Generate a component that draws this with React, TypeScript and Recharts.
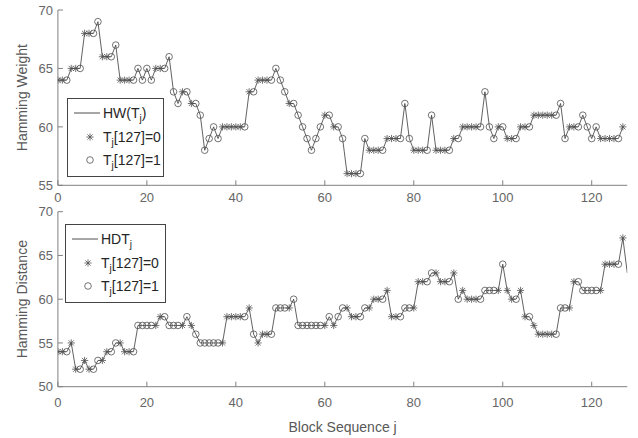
import React from "react";
import { LineChart, Line, XAxis, YAxis, Legend } from "recharts";

// block index j = position in the arrays
const hwValues = [
  64, 64, 64, 65, 65, 65, 68, 68, 68, 69,
  66, 66, 66, 67, 64, 64, 64, 64, 65, 64,
  65, 64, 65, 65, 65, 66, 63, 62, 63, 63,
  62, 62, 61, 58, 59, 60, 59, 60, 60, 60,
  60, 60, 60, 63, 63, 64, 64, 64, 64, 65,
  64, 63, 62, 62, 61, 60, 59, 58, 59, 60,
  61, 61, 60, 60, 59, 56, 56, 56, 56, 59,
  58, 58, 58, 58, 59, 59, 59, 59, 62, 59,
  58, 58, 58, 58, 61, 58, 58, 58, 58, 59,
  59, 60, 60, 60, 60, 60, 63, 60, 59, 60,
  60, 59, 59, 59, 60, 60, 60, 61, 61, 61,
  61, 61, 61, 62, 59, 60, 60, 60, 61, 60,
  59, 60, 59, 59, 59, 59, 59, 60,
];

const hdtValues = [
  54, 54, 54, 55, 52, 52, 53, 52, 52, 53,
  53, 54, 54, 55, 55, 54, 54, 54, 57, 57,
  57, 57, 57, 58, 58, 57, 57, 57, 57, 58,
  57, 56, 55, 55, 55, 55, 55, 55, 58, 58,
  58, 58, 58, 59, 56, 55, 56, 56, 56, 59,
  59, 59, 59, 60, 57, 57, 57, 57, 57, 57,
  57, 58, 57, 58, 59, 59, 58, 58, 58, 59,
  59, 60, 60, 60, 61, 58, 58, 58, 59, 59,
  59, 62, 62, 62, 63, 63, 62, 62, 62, 63,
  60, 61, 60, 60, 60, 60, 61, 61, 61, 61,
  64, 61, 60, 60, 61, 58, 58, 57, 56, 56,
  56, 56, 56, 59, 59, 59, 62, 62, 61, 61,
  61, 61, 61, 64, 64, 64, 64, 67, 63,
];

// T_j[127]
const lastBit = [
  0, 0, 1, 0, 0, 1, 0, 0, 1, 1,
  0, 0, 1, 1, 0, 0, 0, 1, 1, 1,
  1, 1, 0, 0, 1, 1, 1, 1, 0, 1,
  0, 1, 1, 1, 1, 1, 1, 0, 0, 0,
  0, 0, 1, 0, 1, 0, 0, 0, 1, 1,
  1, 1, 0, 1, 1, 1, 1, 1, 1, 1,
  0, 1, 0, 1, 1, 0, 0, 0, 1, 1,
  0, 0, 0, 1, 0, 0, 0, 1, 1, 1,
  0, 0, 0, 1, 1, 0, 0, 0, 1, 0,
  1, 0, 0, 0, 0, 1, 1, 1, 1, 0,
  1, 0, 0, 1, 0, 0, 1, 0, 0, 0,
  0, 0, 1, 1, 1, 0, 0, 1, 1, 1,
  1, 1, 0, 0, 0, 0, 1, 0,
];

const xTicks = [0, 20, 40, 60, 80, 100, 120];
const hwTicks = [55, 60, 65, 70];
const hdtTicks = [50, 55, 60, 65, 70];

const rows = hdtValues.map((v, j) => ({
  j,
  hw: hwValues[j] ?? null,
  hdt: v,
  bit: lastBit[j],
}));

const FONT = "'Liberation Sans', Arial, Helvetica, sans-serif";
const AXIS = "#808080";
const TICK_TXT = "#666666";
const TITLE = "#595959";
const LINE = "#3a3a3a";
const MARK = "#505050";

function Star({ cx, cy, r = 3.6 }: { cx: number; cy: number; r?: number }) {
  const d = r * 0.72;
  return (
    <g stroke={MARK} strokeWidth={0.8}>
      <line x1={cx - r} y1={cy} x2={cx + r} y2={cy} />
      <line x1={cx} y1={cy - r} x2={cx} y2={cy + r} />
      <line x1={cx - d} y1={cy - d} x2={cx + d} y2={cy + d} />
      <line x1={cx - d} y1={cy + d} x2={cx + d} y2={cy - d} />
    </g>
  );
}

function Ring({ cx, cy }: { cx: number; cy: number }) {
  return <circle cx={cx} cy={cy} r={3.3} fill="none" stroke={MARK} strokeWidth={0.8} />;
}

function marker(props: any) {
  const { cx, cy, index, payload } = props;
  if (cy == null || payload.bit === undefined) return <g key={`m-${index}`} />;
  return payload.bit === 0 ? (
    <g key={`m-${index}`}><Star cx={cx} cy={cy} /></g>
  ) : (
    <g key={`m-${index}`}><Ring cx={cx} cy={cy} /></g>
  );
}

function BottomTick(props: any) {
  const { x, y, payload, gap = 8 } = props;
  return (
    <g>
      <line x1={x} y1={y} x2={x} y2={y - 5} stroke={AXIS} />
      <text x={x} y={y + gap} dy="0.71em" textAnchor="middle" fill={TICK_TXT} fontSize={13} fontFamily={FONT}>
        {payload.value}
      </text>
    </g>
  );
}

function TopTick(props: any) {
  const { x, y } = props;
  return <line x1={x} y1={y} x2={x} y2={y + 5} stroke={AXIS} />;
}

function LeftTick(props: any) {
  const { x, y, payload } = props;
  return (
    <g>
      <line x1={x} y1={y} x2={x + 5} y2={y} stroke={AXIS} />
      <text x={x - 5} y={y} dy="0.36em" textAnchor="end" fill={TICK_TXT} fontSize={13} fontFamily={FONT}>
        {payload.value}
      </text>
    </g>
  );
}

function RightTick(props: any) {
  const { x, y } = props;
  return <line x1={x} y1={y} x2={x - 5} y2={y} stroke={AXIS} />;
}

function yTitle(text: string) {
  return (p: any) => {
    const vb = p.viewBox;
    const cx = vb.x + 22;
    const cy = vb.y + vb.height / 2;
    return (
      <text
        x={cx}
        y={cy}
        transform={`rotate(-90 ${cx} ${cy})`}
        textAnchor="middle"
        dominantBaseline="central"
        fill={TITLE}
        fontSize={14}
        fontFamily={FONT}
      >
        {text}
      </text>
    );
  };
}

function LegendBox({ name, width }: { name: string; width: number }) {
  const sub = (
    <tspan dy={4} fontSize={10}>
      j
    </tspan>
  );
  return (
    <div style={{ width, height: 79, border: "1px solid #444", background: "#fff", boxSizing: "border-box" }}>
      <svg width={width - 2} height={77} style={{ display: "block" }} fontFamily={FONT} fontSize={14} fill="#262626">
        <line x1={6} y1={14} x2={32} y2={14} stroke={LINE} strokeWidth={0.9} />
        <text x={35} y={19}>
          {name === "HW" ? "HW(T" : "HDT"}
          {sub}
          {name === "HW" ? <tspan dy={-4}>)</tspan> : null}
        </text>
        <Star cx={22} cy={38} />
        <text x={35} y={43}>
          T{sub}
          <tspan dy={-4}>[127]=0</tspan>
        </text>
        <Ring cx={22} cy={61} />
        <text x={35} y={66}>
          T{sub}
          <tspan dy={-4}>[127]=1</tspan>
        </text>
      </svg>
    </div>
  );
}

export default function App() {
  return (
    <div style={{ position: "absolute", left: 0, top: 0, width: 638, height: 438, background: "#fff" }}>
      <div style={{ position: "absolute", left: 0, top: 0 }}>
        <LineChart width={638} height={212} data={rows} margin={{ top: 10, right: 10.7, left: 0, bottom: 0 }}>
          <XAxis xAxisId="b" dataKey="j" type="number" domain={[0, 128]} ticks={xTicks} allowDataOverflow
            height={26.7} tickSize={0} tickMargin={0} tick={<BottomTick gap={7.5} />} axisLine={{ stroke: AXIS }} tickLine={false} interval={0} />
          <XAxis xAxisId="t" orientation="top" dataKey="j" type="number" domain={[0, 128]} ticks={xTicks} allowDataOverflow
            height={0} tickSize={0} tickMargin={0} tick={<TopTick />} axisLine={{ stroke: AXIS }} tickLine={false} interval={0} />
          <YAxis yAxisId="l" type="number" domain={[55, 70]} ticks={hwTicks} allowDataOverflow width={57.9}
            tickSize={0} tickMargin={0} tick={<LeftTick />} axisLine={{ stroke: AXIS }} tickLine={false} interval={0}
            label={{ content: yTitle("Hamming Weight") }} />
          <YAxis yAxisId="r" orientation="right" type="number" domain={[55, 70]} ticks={hwTicks} allowDataOverflow width={0}
            tickSize={0} tickMargin={0} tick={<RightTick />} axisLine={{ stroke: AXIS }} tickLine={false} interval={0} />
          <Line xAxisId="b" yAxisId="l" dataKey="hw" stroke={LINE} strokeWidth={0.8} dot={marker} activeDot={false}
            isAnimationActive={false} type="linear" />
          <Legend layout="vertical" align="center" verticalAlign="middle"
            wrapperStyle={{ left: 66.7, top: 98.3, width: 97, height: 79 }}
            content={() => <LegendBox name="HW" width={97} />} />
        </LineChart>
      </div>
      <div style={{ position: "absolute", left: 0, top: 200 }}>
        <LineChart width={638} height={238} data={rows} margin={{ top: 11.7, right: 10.7, left: 0, bottom: 0 }}>
          <XAxis xAxisId="b" dataKey="j" type="number" domain={[0, 128]} ticks={xTicks} allowDataOverflow
            height={51.3} tickSize={0} tickMargin={0} tick={<BottomTick gap={11} />} axisLine={{ stroke: AXIS }} tickLine={false} interval={0}
            label={{ value: "Block Sequence j", position: "insideBottom", offset: 6, fill: TITLE, fontSize: 14, fontFamily: FONT }} />
          <XAxis xAxisId="t" orientation="top" dataKey="j" type="number" domain={[0, 128]} ticks={xTicks} allowDataOverflow
            height={0} tickSize={0} tickMargin={0} tick={<TopTick />} axisLine={{ stroke: AXIS }} tickLine={false} interval={0} />
          <YAxis yAxisId="l" type="number" domain={[50, 70]} ticks={hdtTicks} allowDataOverflow width={57.9}
            tickSize={0} tickMargin={0} tick={<LeftTick />} axisLine={{ stroke: AXIS }} tickLine={false} interval={0}
            label={{ content: yTitle("Hamming Distance") }} />
          <YAxis yAxisId="r" orientation="right" type="number" domain={[50, 70]} ticks={hdtTicks} allowDataOverflow width={0}
            tickSize={0} tickMargin={0} tick={<RightTick />} axisLine={{ stroke: AXIS }} tickLine={false} interval={0} />
          <Line xAxisId="b" yAxisId="l" dataKey="hdt" stroke={LINE} strokeWidth={0.8} dot={marker} activeDot={false}
            isAnimationActive={false} type="linear" />
          <Legend layout="vertical" align="center" verticalAlign="middle"
            wrapperStyle={{ left: 65, top: 24, width: 101, height: 79 }}
            content={() => <LegendBox name="HDT" width={101} />} />
        </LineChart>
      </div>
    </div>
  );
}
